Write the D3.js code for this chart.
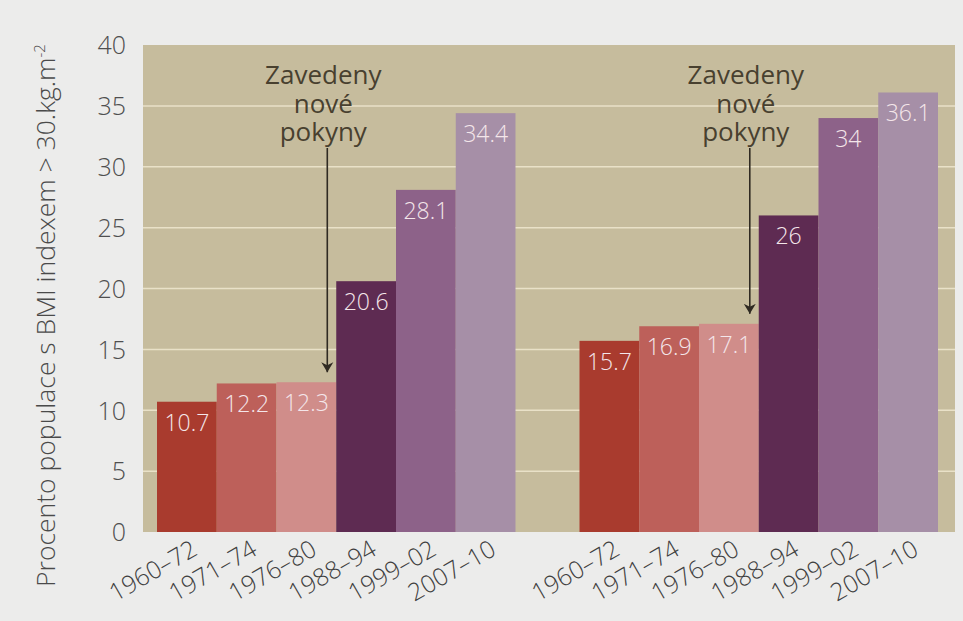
<!DOCTYPE html>
<html>
<head>
<meta charset="utf-8">
<script src="https://cdn.jsdelivr.net/npm/d3@7"></script>
<style>
  html, body { margin: 0; padding: 0; background: #ececeb; }
  svg { display: block; }
</style>
</head>
<body>
<svg id="chart" width="963" height="621"></svg>
<script>
// ---- data ----
const categories = ["1960–72", "1971–74", "1976–80", "1988–94", "1999–02", "2007–10"];
const groups = ["g1", "g2"];
const valuesGroup1 = [10.7, 12.2, 12.3, 20.6, 28.1, 34.4];
const valuesGroup2 = [15.7, 16.9, 17.1, 26, 34, 36.1];
const valueLabelsGroup1 = ["10.7", "12.2", "12.3", "20.6", "28.1", "34.4"];
const valueLabelsGroup2 = ["15.7", "16.9", "17.1", "26", "34", "36.1"];
const yTicks = [0, 5, 10, 15, 20, 25, 30, 35, 40];
const barColors = ["#a93b2e", "#bd605a", "#d08d8a", "#5e2b52", "#8d6289", "#a68fa7"];
const annotationLines = ["Zavedeny", "nové", "pokyny"];
const annotationTargets = [
  { group: "g1", category: "1976–80" },
  { group: "g2", category: "1976–80" }
];
const yTitle = "Procento populace s BMI indexem > 30.kg.m";
const yTitleSup = "-2";

const seriesByGroup = { g1: valuesGroup1, g2: valuesGroup2 };
const labelsByGroup = { g1: valueLabelsGroup1, g2: valueLabelsGroup2 };

// ---- layout ----
const svg = d3.select("#chart");
const plot = { left: 143, right: 955, top: 45, bottom: 532 };
const barsLeft = 157, barsRight = 938;

const y = d3.scaleLinear().domain([0, 40]).range([plot.bottom, plot.top]);
const x0 = d3.scaleBand().domain(groups).range([barsLeft, barsRight])
  .paddingInner(64 / 422.5).paddingOuter(0);
const x1 = d3.scaleBand().domain(categories).range([0, x0.bandwidth()]).padding(0);
const color = d3.scaleOrdinal().domain(categories).range(barColors);

const FONT = "'Open Sans', 'Noto Sans', sans-serif";

// plot background
svg.append("rect")
  .attr("x", plot.left).attr("y", plot.top)
  .attr("width", plot.right - plot.left).attr("height", plot.bottom - plot.top)
  .attr("fill", "#c6bc9d");

// gridlines
svg.append("g").selectAll("line")
  .data(yTicks.filter(t => t > 0 && t < 40))
  .join("line")
  .attr("x1", plot.left).attr("x2", plot.right)
  .attr("y1", d => y(d)).attr("y2", d => y(d))
  .attr("stroke", "#e9e1c8").attr("stroke-width", 1.5);

// y axis (labels only)
const yAxis = d3.axisLeft(y).tickValues(yTicks).tickSize(0).tickPadding(0);
const yg = svg.append("g").attr("transform", `translate(${plot.left - 17},0)`).call(yAxis);
yg.select(".domain").remove();
yg.selectAll("text")
  .attr("font-family", FONT).attr("font-size", 25).attr("font-weight", 300)
  .attr("fill", "#4f4f4f").attr("dy", "0.35em");

// y title
const yt = svg.append("text")
  .attr("transform", `translate(55, ${(plot.top + 590) / 2 - 2}) rotate(-90)`)
  .attr("text-anchor", "middle")
  .attr("font-family", FONT).attr("font-size", 26.5).attr("font-weight", 300)
  .attr("fill", "#4a4a4a");
yt.append("tspan").text(yTitle);
yt.append("tspan").attr("baseline-shift", "super").attr("font-size", 15).text(yTitleSup);

// bars
const barData = [];
groups.forEach(g => categories.forEach((c, i) => barData.push({
  group: g, category: c, value: seriesByGroup[g][i], label: labelsByGroup[g][i]
})));

svg.append("g").selectAll("rect")
  .data(barData)
  .join("rect")
  .attr("x", d => x0(d.group) + x1(d.category))
  .attr("y", d => y(d.value))
  .attr("width", x1.bandwidth())
  .attr("height", d => y(0) - y(d.value))
  .attr("fill", d => color(d.category));

// value labels
svg.append("g").selectAll("text")
  .data(barData)
  .join("text")
  .attr("x", d => x0(d.group) + x1(d.category) + x1.bandwidth() / 2)
  .attr("y", d => y(d.value) + 29)
  .attr("text-anchor", "middle")
  .attr("font-family", FONT).attr("font-size", 23).attr("font-weight", 300)
  .attr("fill", "#f4e6ea")
  .text(d => d.label);

// x labels (rotated)
svg.append("g").selectAll("text")
  .data(barData)
  .join("text")
  .attr("transform", d => {
    const cx = x0(d.group) + x1(d.category) + x1.bandwidth() / 2 + 12;
    return `translate(${cx}, ${plot.bottom + 22}) rotate(-30)`;
  })
  .attr("text-anchor", "end")
  .attr("font-family", FONT).attr("font-size", 24.5).attr("font-weight", 300)
  .attr("fill", "#3f3f3f")
  .text(d => d.category);

// annotations
svg.append("defs").append("marker")
  .attr("id", "arrowhead").attr("viewBox", "0 0 10 20")
  .attr("refX", 10).attr("refY", 10)
  .attr("markerWidth", 10).attr("markerHeight", 20)
  .attr("markerUnits", "userSpaceOnUse")
  .attr("orient", "auto")
  .append("path").attr("d", "M0,4 L10,10 L0,16 L3,10 Z").attr("fill", "#2f2a22");

annotationTargets.forEach(t => {
  const i = categories.indexOf(t.category);
  const v = seriesByGroup[t.group][i];
  const ax = x0(t.group) + x1(t.category) + x1.bandwidth() * 0.85;
  const txt = svg.append("text")
    .attr("text-anchor", "middle")
    .attr("font-family", FONT).attr("font-size", 26).attr("font-weight", 400)
    .attr("fill", "#48402f");
  annotationLines.forEach((ln, k) => {
    txt.append("tspan").attr("x", ax - 4).attr("y", plot.top + 39 + k * 28.5).text(ln);
  });
  svg.append("line")
    .attr("x1", ax).attr("x2", ax)
    .attr("y1", plot.top + 103)
    .attr("y2", y(v) - 10)
    .attr("stroke", "#2f2a22").attr("stroke-width", 1.6)
    .attr("marker-end", "url(#arrowhead)");
});
</script>
</body>
</html>
